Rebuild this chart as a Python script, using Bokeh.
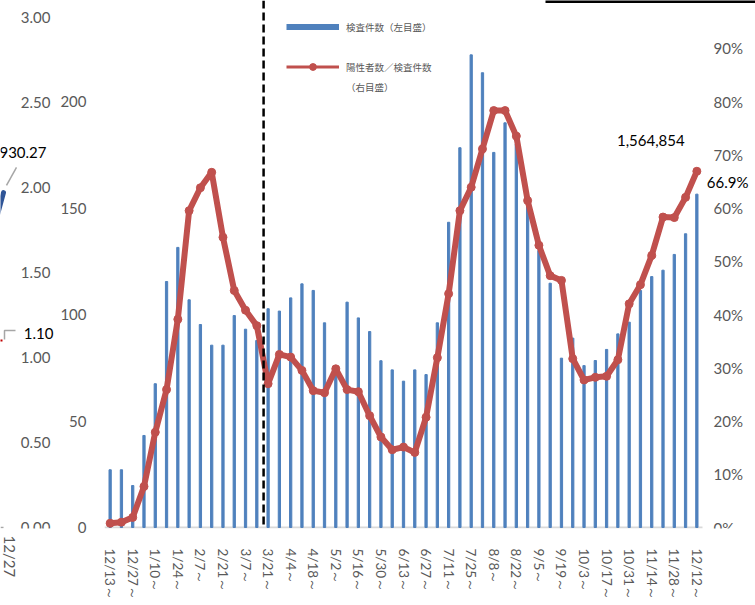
from bokeh.plotting import figure
from bokeh.models import Range1d, FixedTicker, Span, Label, Legend, LegendItem
from bokeh.core.properties import value
from bokeh.layouts import row
from bokeh.embed import file_html
from bokeh.resources import INLINE

# ---------------- data ----------------
weeks = ["12/13", "12/20", "12/27", "1/3", "1/10", "1/17", "1/24", "1/31", "2/7", "2/14",
         "2/21", "2/28", "3/7", "3/14", "3/21", "3/28", "4/4", "4/11", "4/18", "4/25",
         "5/2", "5/9", "5/16", "5/23", "5/30", "6/6", "6/13", "6/20", "6/27", "7/4",
         "7/11", "7/18", "7/25", "8/1", "8/8", "8/15", "8/22", "8/29", "9/5", "9/12",
         "9/19", "9/26", "10/3", "10/10", "10/17", "10/24", "10/31", "11/7", "11/14", "11/21",
         "11/28", "12/5", "12/12"]
# 検査件数 (万件, left axis)
tests = [27.1, 27.1, 19.7, 43.2, 67.5, 115.5, 131.5, 106.9, 95.3, 85.6,
         85.6, 99.5, 93.1, 87.8, 102.7, 101.6, 107.8, 114.4, 111.3, 96.1,
         72.0, 105.8, 98.4, 92.0, 78.3, 74.0, 68.7, 74.0, 71.8, 96.1,
         143.3, 178.3, 221.9, 213.5, 176.1, 190.0, 180.0, 153.0, 130.0, 114.7,
         79.5, 88.9, 76.0, 78.4, 83.6, 90.9, 96.4, 111.3, 117.8, 120.8,
         128.2, 137.9, 156.5]
# 陽性者数／検査件数 (%, right axis)
ratio = [0.8, 1.0, 1.9, 7.7, 17.9, 25.9, 39.1, 59.5, 63.8, 66.7,
         54.5, 44.5, 40.8, 37.9, 27.0, 32.5, 32.0, 29.5, 25.7, 25.3,
         29.8, 25.9, 25.5, 21.0, 17.0, 14.6, 15.1, 14.1, 20.7, 31.9,
         43.9, 59.5, 63.9, 71.1, 78.3, 78.3, 73.5, 61.4, 53.0, 47.3,
         46.4, 31.7, 27.7, 28.2, 28.4, 31.5, 42.0, 45.6, 51.1, 58.3,
         58.2, 62.0, 66.9]
idx = list(range(len(weeks)))
left_ticks = [0, 50, 100, 150, 200]
right_ticks = [0, 10, 20, 30, 40, 50, 60, 70, 80, 90]
right_tick_labels = [f"{t}%" for t in right_ticks]
divider_pos = 13.6          # dashed separator, between 3/14 and 3/21
last_total_label = "1,564,854"
last_ratio_label = "66.9%"

# fragment of the neighbouring chart on the left (x in screen pixels of that strip)
other_ticks = [0.0, 0.5, 1.0, 1.5, 2.0, 2.5, 3.0]
other_tick_labels = [f"{t:.2f}" for t in other_ticks]
other_cat_label = "12/27"
other_blue_x = [-3, 3]
other_blue_y = [1.84, 1.97]
other_red_x = [-5, 2]
other_red_y = [1.10, 1.10]
other_blue_label = "930.27"
other_blue_label_y = 2.206
other_red_label = "1.10"
other_red_label_y = 1.141
other_leader_xs = [[6, 16], [4, 4, 15], [0, 3]]
other_leader_ys = [[2.012, 2.119], [1.106, 1.159, 1.159], [0.0, 0.0]]

# ---------------- layout constants ----------------
GRAY = "#595959"
FONT = "Lato"
BLUE = "#4F81BD"
RED = "#C0504D"
NAN = float("nan")
H = 605
BOTTOM = 77                 # frame bottom at y = 528, value 0 at y = 527
LEFT_W = 54
MAIN_W = 755 - LEFT_W
MAIN_BORDER_L = 50          # main frame starts at x = 104
CAT_W = 598 / 53            # pixels per week
FRAME_W = MAIN_W - MAIN_BORDER_L
X_END = -0.5 + FRAME_W / CAT_W
PX_L = 2.13                 # px per unit, left scale
PX_R = 5.325                # px per %, right scale
RIGHT_LABEL_X = -0.5 + (713 - 104) / CAT_W
TOP_RULE_X0 = -0.5 + (545 - 104) / CAT_W

# ---------------- left fragment figure ----------------
q = figure(width=LEFT_W, height=H, x_range=Range1d(0, LEFT_W),
           y_range=Range1d(-1 / 170, 527 / 170),
           output_backend="svg", toolbar_location=None, y_axis_location=None,
           min_border_left=0, min_border_right=0, min_border_top=0, min_border_bottom=BOTTOM,
           outline_line_color=None)
q.grid.visible = False
q.xaxis.ticker = FixedTicker(ticks=[9])
q.xaxis.major_label_overrides = {9: other_cat_label}
q.xaxis.axis_line_color = None
q.xaxis.major_tick_line_color = None
q.xaxis.minor_tick_line_color = None
q.xaxis.major_label_orientation = "vertical"
q.xaxis.major_label_standoff = 1
q.xaxis.major_label_text_font = FONT
q.xaxis.major_label_text_font_size = "15px"
q.xaxis.major_label_text_color = GRAY

q.text(x=[50] * len(other_ticks), y=other_ticks, text=other_tick_labels,
       text_align="right", text_baseline="middle", text_font=value(FONT),
       text_font_size="15px", text_color=GRAY)
q.multi_line(xs=other_leader_xs, ys=other_leader_ys, line_color="#A6A6A6", line_width=1.5)
q.line(x=other_blue_x, y=other_blue_y, line_color="#2F5597", line_width=5, line_cap="round")
q.line(x=other_red_x, y=other_red_y, line_color="#C00000", line_width=2)
q.text(x=[46], y=[other_blue_label_y], text=[other_blue_label], text_align="right",
       text_baseline="middle", text_font=value(FONT), text_font_size="15px",
       text_color="#000000")
q.text(x=[53], y=[other_red_label_y], text=[other_red_label], text_align="right",
       text_baseline="middle", text_font=value(FONT), text_font_size="15px",
       text_color="#000000")

# ---------------- main figure ----------------
p = figure(width=MAIN_W, height=H, x_range=Range1d(-0.5, X_END),
           y_range=Range1d(-1 / PX_L, 527 / PX_L),
           output_backend="svg", toolbar_location=None,
           min_border_left=MAIN_BORDER_L, min_border_right=0, min_border_top=0,
           min_border_bottom=BOTTOM, outline_line_color=None)
p.extra_y_ranges = {"pct": Range1d(-1 / PX_R, 527 / PX_R)}
p.grid.visible = False

# category baseline (the x axis line of the chart)
p.segment(x0=[idx[0] - 0.5], x1=[idx[-1] + 0.5], y0=[0], y1=[0],
          line_color="#D9D9D9", line_width=2)

p.vbar(x=idx, top=tests, width=0.2, color=BLUE)
p.line(x=idx, y=ratio, y_range_name="pct", line_color=RED, line_width=6, line_join="round")
p.scatter(x=idx, y=ratio, y_range_name="pct", size=8, color=RED)

p.add_layout(Span(location=divider_pos, dimension="height", line_color="#000000",
                  line_width=2.5, line_dash="8 4"))

# border of the box above the chart (top right)
p.segment(x0=[TOP_RULE_X0], x1=[X_END], y0=[526 / PX_L], y1=[526 / PX_L],
          line_color="#000000", line_width=3)

# left axis
p.yaxis.ticker = FixedTicker(ticks=left_ticks)
p.yaxis.axis_line_color = None
p.yaxis.major_tick_line_color = None
p.yaxis.minor_tick_line_color = None
p.yaxis.major_label_standoff = 12
p.yaxis.major_label_text_font = FONT
p.yaxis.major_label_text_font_size = "15px"
p.yaxis.major_label_text_color = GRAY

# right scale labels (percent), drawn through the "pct" scale
p.text(x=[RIGHT_LABEL_X] * len(right_ticks), y=right_ticks, text=right_tick_labels,
       y_range_name="pct", text_align="left", text_baseline="middle",
       text_font=value(FONT), text_font_size="15px", text_color=GRAY)

# x axis
p.xaxis.ticker = FixedTicker(ticks=idx[::2])
p.xaxis.major_label_overrides = {i: weeks[i] + "～" for i in idx[::2]}
p.xaxis.axis_line_color = None
p.xaxis.major_tick_line_color = None
p.xaxis.minor_tick_line_color = None
p.xaxis.major_label_orientation = "vertical"
p.xaxis.major_label_standoff = 14
p.xaxis.major_label_text_font = FONT
p.xaxis.major_label_text_font_size = "13.5px"
p.xaxis.major_label_text_color = GRAY

# data labels
p.add_layout(Label(x=idx[-1], y=tests[-1], text=last_total_label, x_offset=-46, y_offset=54,
                   text_align="center", text_baseline="middle", text_font=FONT,
                   text_font_size="15px", text_color="#000000"))
p.add_layout(Label(x=idx[-1], y=ratio[-1], y_range_name="pct", text=last_ratio_label,
                   x_offset=10, y_offset=-11, text_align="left", text_baseline="middle",
                   text_font=FONT, text_font_size="15px", text_color="#000000"))

# legend (proxy renderers with no visible data carry the legend styling)
lg_blue = p.line(x=[NAN], y=[NAN], line_color=BLUE, line_width=6, line_cap="butt")
lg_red_line = p.line(x=[NAN], y=[NAN], line_color=RED, line_width=3)
lg_red_dot = p.scatter(x=[NAN], y=[NAN], color=RED, size=7)
lg_blank = p.line(x=[NAN], y=[NAN], line_alpha=0)
legend = Legend(items=[
    LegendItem(label="検査件数（左目盛）", renderers=[lg_blue]),
    LegendItem(label=" ", renderers=[lg_blank]),
    LegendItem(label="陽性者数／検査件数", renderers=[lg_red_line, lg_red_dot]),
    LegendItem(label="（右目盛）", renderers=[lg_blank]),
], location=(182, 433), orientation="vertical", glyph_width=53, glyph_height=17,
   label_height=14, label_standoff=7, spacing=3, padding=0, margin=0,
   border_line_color=None, background_fill_alpha=0,
   label_text_font="Noto Sans CJK JP", label_text_font_size="9.5px",
   label_text_color=GRAY)
p.add_layout(legend)

layout = row(q, p)
open("out.html", "w").write(file_html(layout, INLINE))
